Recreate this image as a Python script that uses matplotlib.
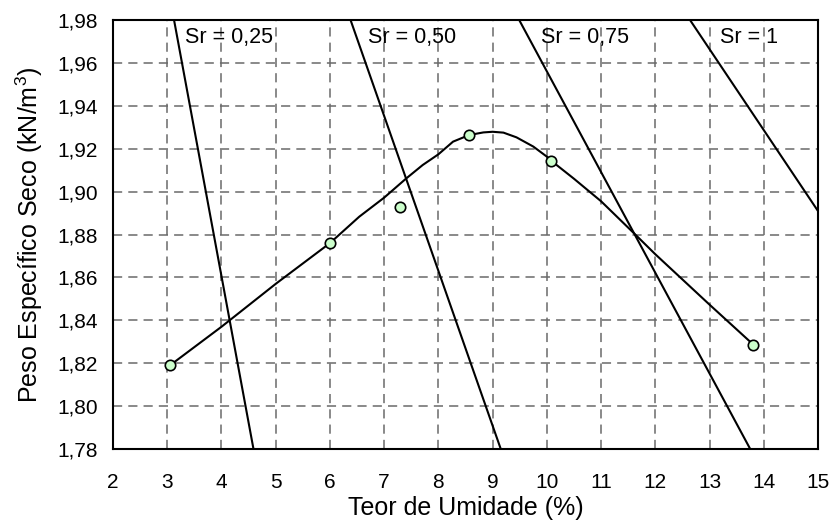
import matplotlib
matplotlib.use("Agg")
import matplotlib.pyplot as plt

plt.rcParams['font.family'] = ['Liberation Sans', 'DejaVu Sans']
plt.rcParams['mathtext.fontset'] = 'custom'
plt.rcParams['mathtext.rm'] = 'Liberation Sans'
plt.rcParams['mathtext.it'] = 'Liberation Sans'

# Compaction test results: moisture content (%) vs dry unit weight
ensaio_w = [3.05, 6.0, 7.3, 8.57, 10.08, 13.81]
ensaio_gd = [1.819, 1.876, 1.893, 1.9265, 1.9144, 1.8286]

# Smoothed compaction curve
curva_w = [3.05, 4.0, 5.0, 6.0, 6.54, 7.0, 7.4, 7.71, 8.0, 8.27, 8.57, 8.83,
           9.0, 9.2, 9.44, 9.75, 10.0, 10.08, 10.5, 11.0, 11.63, 12.0, 13.0,
           13.81]
curva_gd = [1.819, 1.837, 1.857, 1.876, 1.8883, 1.8972, 1.906, 1.9124, 1.9174,
            1.9233, 1.9264, 1.9276, 1.9279, 1.9275, 1.9253, 1.9210, 1.9163,
            1.9144, 1.9060, 1.8955, 1.880, 1.8708, 1.8473, 1.8286]

# Saturation lines (Sr): moisture content at the bottom and top unit weights
sat_gd = [1.78, 1.98]
sat_labels = ['Sr = 0,25', 'Sr = 0,50', 'Sr = 0,75', 'Sr = 1']
sat_w = [
    [4.59, 3.125],
    [9.15, 6.38],
    [13.75, 9.49],
    [17.94, 12.64],
]
sat_label_x = [3.33, 6.70, 9.90, 13.19]

x_ticks = list(range(2, 16))
y_ticks = [1.78, 1.80, 1.82, 1.84, 1.86, 1.88, 1.90, 1.92, 1.94, 1.96, 1.98]
y_ticklabels = ['1,78', '1,80', '1,82', '1,84', '1,86', '1,88', '1,90',
                '1,92', '1,94', '1,96', '1,98']

fig = plt.figure(figsize=(8.33, 5.24), dpi=100)
ax = fig.add_axes([0.1357, 0.1431, 0.8463, 0.8187])

ax.set_xlim(2, 15)
ax.set_ylim(1.78, 1.98)
ax.set_xticks(x_ticks)
ax.set_xticklabels([str(v) for v in x_ticks])
ax.set_yticks(y_ticks)
ax.set_yticklabels(y_ticklabels)

ax.grid(True, color='#6a6a6a', linestyle=(0, (6, 4)), linewidth=1.1, zorder=0)
ax.set_axisbelow(True)

for ws, lab, lx in zip(sat_w, sat_labels, sat_label_x):
    ax.plot(ws, sat_gd, color='black', linewidth=1.5, zorder=2)
    ax.text(lx, 1.9694, lab, fontsize=15.5, va='baseline', ha='left', zorder=3)

ax.plot(curva_w, curva_gd, color='black', linewidth=1.5, zorder=3)
ax.plot(ensaio_w, ensaio_gd, linestyle='none', marker='o', markersize=7.5,
        markerfacecolor='#ccffcc', markeredgecolor='black',
        markeredgewidth=1.2, zorder=4)

for s in ax.spines.values():
    s.set_color('black')
    s.set_linewidth(1.5)

ax.tick_params(axis='both', direction='in', length=0, labelsize=15)
ax.tick_params(axis='x', pad=17)
ax.tick_params(axis='y', pad=11)

ax.set_xlabel('Teor de Umidade (%)', fontsize=18, labelpad=3)
ax.set_ylabel('Peso Específico Seco (kN/m$^3$)', fontsize=18, labelpad=9)

fig.savefig('out.png', dpi=100)
